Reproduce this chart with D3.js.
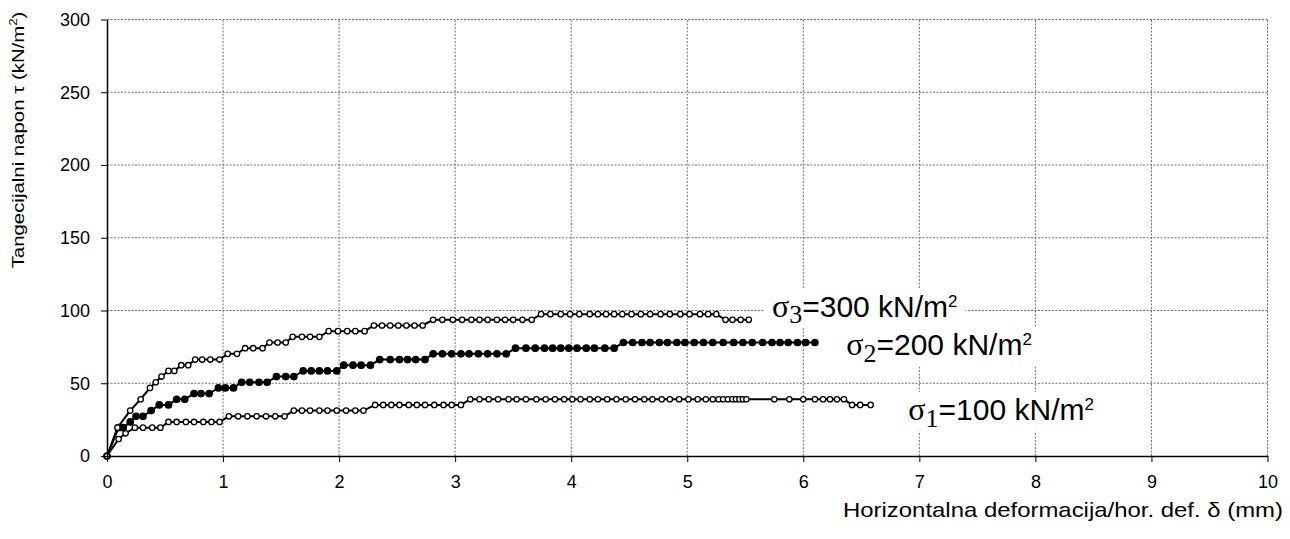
<!DOCTYPE html>
<html><head><meta charset="utf-8">
<script src="https://cdn.jsdelivr.net/npm/d3@7"></script>
<style>body{margin:0;background:#fff}svg{display:block}</style>
</head><body>
<script>
// ---- data ----
const xTicks = [0,1,2,3,4,5,6,7,8,9,10];
const yTicks = [0,50,100,150,200,250,300];

// sigma1 = 100 kN/m2 (open circles)
const sigma1X = [0,0.10,0.16,0.24,0.31,0.39,0.46,0.53,0.60,0.68,0.75,0.83,0.90,0.97,1.05,1.13,1.21,1.29,1.37,1.45,1.53,1.61,1.68,1.75,1.83,1.90,1.98,2.06,2.14,2.21,2.31,2.38,2.45,2.52,2.60,2.67,2.74,2.82,2.90,2.97,3.05,3.13,3.21,3.29,3.37,3.46,3.53,3.61,3.70,3.78,3.86,3.94,4.01,4.08,4.16,4.23,4.31,4.39,4.47,4.55,4.63,4.70,4.78,4.85,4.93,5.01,5.09,5.16,5.22,5.27,5.31,5.35,5.39,5.42,5.45,5.48,5.51,5.75,5.88,6.00,6.10,6.17,6.23,6.29,6.35,6.42,6.49,6.58];
const sigma1Y = [0,11.7,15.6,19.5,19.5,19.5,19.5,23.4,23.4,23.4,23.4,23.4,23.4,23.4,27.3,27.3,27.3,27.3,27.3,27.3,27.3,31.2,31.2,31.2,31.2,31.2,31.2,31.2,31.2,31.2,35.1,35.1,35.1,35.1,35.1,35.1,35.1,35.1,35.1,35.1,35.1,39.0,39.0,39.0,39.0,39.0,39.0,39.0,39.0,39.0,39.0,39.0,39.0,39.0,39.0,39.0,39.0,39.0,39.0,39.0,39.0,39.0,39.0,39.0,39.0,39.0,39.0,39.0,39.0,39.0,39.0,39.0,39.0,39.0,39.0,39.0,39.0,39.0,39.0,39.0,39.0,39.0,39.0,39.0,39.0,35.1,35.1,35.1];

// sigma2 = 200 kN/m2 (filled circles)
const sigma2X = [0,0.10,0.14,0.20,0.25,0.31,0.38,0.45,0.53,0.60,0.67,0.75,0.81,0.88,0.96,1.02,1.09,1.16,1.23,1.31,1.38,1.46,1.54,1.61,1.69,1.76,1.83,1.90,1.98,2.04,2.12,2.19,2.27,2.35,2.44,2.52,2.59,2.66,2.74,2.81,2.89,2.97,3.05,3.12,3.20,3.28,3.36,3.44,3.52,3.61,3.69,3.77,3.84,3.91,3.98,4.05,4.13,4.20,4.29,4.37,4.45,4.53,4.61,4.68,4.76,4.83,4.91,4.98,5.06,5.14,5.22,5.31,5.40,5.48,5.56,5.65,5.73,5.80,5.87,5.95,6.02,6.10];
const sigma2Y = [0,19.5,19.5,23.4,27.3,27.3,31.2,35.1,35.1,39.0,39.0,42.9,42.9,42.9,46.8,46.8,46.8,50.7,50.7,50.7,50.7,54.6,54.6,54.6,58.5,58.5,58.5,58.5,58.5,62.4,62.4,62.4,62.4,66.3,66.3,66.3,66.3,66.3,66.3,70.2,70.2,70.2,70.2,70.2,70.2,70.2,70.2,70.2,74.1,74.1,74.1,74.1,74.1,74.1,74.1,74.1,74.1,74.1,74.1,74.1,78.0,78.0,78.0,78.0,78.0,78.0,78.0,78.0,78.0,78.0,78.0,78.0,78.0,78.0,78.0,78.0,78.0,78.0,78.0,78.0,78.0,78.0];

// sigma3 = 300 kN/m2 (open circles)
const sigma3X = [0,0.09,0.20,0.29,0.37,0.42,0.47,0.53,0.58,0.64,0.70,0.76,0.82,0.89,0.97,1.04,1.12,1.19,1.26,1.34,1.40,1.47,1.54,1.60,1.68,1.75,1.83,1.91,1.99,2.07,2.14,2.22,2.30,2.37,2.44,2.51,2.58,2.65,2.72,2.81,2.89,2.98,3.06,3.14,3.21,3.28,3.36,3.43,3.50,3.58,3.66,3.74,3.82,3.91,3.99,4.07,4.16,4.23,4.30,4.37,4.44,4.52,4.60,4.68,4.77,4.85,4.94,5.02,5.11,5.18,5.25,5.33,5.39,5.46,5.53];
const sigma3Y = [0,19.5,31.2,39.0,46.8,50.7,54.6,58.5,58.5,62.4,62.4,66.3,66.3,66.3,66.3,70.2,70.2,74.1,74.1,74.1,78.0,78.0,78.0,81.9,81.9,81.9,81.9,85.8,85.8,85.8,85.8,85.8,89.7,89.7,89.7,89.7,89.7,89.7,89.7,93.6,93.6,93.6,93.6,93.6,93.6,93.6,93.6,93.6,93.6,93.6,93.6,97.5,97.5,97.5,97.5,97.5,97.5,97.5,97.5,97.5,97.5,97.5,97.5,97.5,97.5,97.5,97.5,97.5,97.5,97.5,97.5,93.6,93.6,93.6,93.6];

const seriesSub = ["1","2","3"];
const seriesLabel = ["=100 kN/m","=200 kN/m","=300 kN/m"];
const xTitle = "Horizontalna deformacija/hor. def. δ (mm)";
const yTitle = "Tangecijalni napon τ (kN/m";

// ---- drawing ----
const W = 1290, H = 539;
const svg = d3.select("body").append("svg").attr("width", W).attr("height", H)
  .style("font-family", "Arial, 'Liberation Sans', sans-serif");

const x = d3.scaleLinear().domain([0, 10]).range([107, 1267.5]);
const y = d3.scaleLinear().domain([0, 300]).range([456, 19.5]);

// grid
const grid = svg.append("g").attr("stroke", "#707070").attr("stroke-width", 1).attr("stroke-dasharray", "2,1.5");
grid.selectAll(".gx").data(xTicks.filter(d => d > 0)).join("line")
  .attr("x1", d => x(d)).attr("x2", d => x(d)).attr("y1", y(0)).attr("y2", y(300));
grid.selectAll(".gy").data(yTicks.filter(d => d > 0)).join("line")
  .attr("x1", x(0)).attr("x2", x(10)).attr("y1", d => y(d)).attr("y2", d => y(d));

// series
const series = [
  {xs: sigma1X, ys: sigma1Y, filled: false},
  {xs: sigma2X, ys: sigma2Y, filled: true},
  {xs: sigma3X, ys: sigma3Y, filled: false}
];
const line = d3.line().x(d => x(d[0])).y(d => y(d[1]));
series.forEach(s => {
  const pts = s.xs.map((v, i) => [v, s.ys[i]]);
  svg.append("path").datum(pts).attr("d", line)
    .attr("fill", "none").attr("stroke", "#000").attr("stroke-width", 2);
  svg.append("g").selectAll("circle").data(pts).join("circle")
    .attr("cx", d => x(d[0])).attr("cy", d => y(d[1]))
    .attr("r", s.filled ? 3.2 : 2.7)
    .attr("fill", s.filled ? "#000" : "#fff")
    .attr("stroke", "#000").attr("stroke-width", 1.3);
});

// axes
const xAxis = svg.append("g").attr("transform", `translate(0,${y(0)})`)
  .call(d3.axisBottom(x).tickValues(xTicks).tickSize(6).tickSizeOuter(0).tickPadding(13).tickFormat(d3.format("d")));
const yAxis = svg.append("g").attr("transform", `translate(${x(0)},0)`)
  .call(d3.axisLeft(y).tickValues(yTicks).tickSize(6).tickSizeOuter(0).tickPadding(11).tickFormat(d3.format("d")));
[xAxis, yAxis].forEach(a => {
  a.select(".domain").attr("stroke", "#000").attr("stroke-width", 1.5);
  a.selectAll(".tick line").attr("stroke", "#000").attr("stroke-width", 1);
  a.selectAll("text").attr("fill", "#000").attr("font-size", 18)
    .attr("font-family", "Arial, 'Liberation Sans', sans-serif");
});
xAxis.selectAll("text").attr("dy", "0.71em");

// axis titles
svg.append("text").attr("x", 1283).attr("y", 517).attr("text-anchor", "end")
  .attr("font-size", 21).attr("fill", "#000")
  .attr("textLength", 440).attr("lengthAdjust", "spacingAndGlyphs")
  .text(xTitle);

const yt = svg.append("text")
  .attr("transform", `translate(24,140) rotate(-90) scale(1.2,1)`)
  .attr("text-anchor", "middle").attr("font-size", 17).attr("fill", "#000");
yt.append("tspan").text(yTitle);
yt.append("tspan").attr("font-size", 11).attr("dy", -7).text("2");
yt.append("tspan").attr("dy", 7).text(")");

// series annotations
const labelPos = [[6.905, 24.7], [6.37, 69.4], [5.73, 95.8]];
const bgLayer = svg.append("g");
const txtLayer = svg.append("g");
labelPos.forEach((p, i) => {
  const t = txtLayer.append("text").attr("x", x(p[0])).attr("y", y(p[1])).attr("fill", "#000");
  t.append("tspan").attr("font-family", "'Liberation Serif','Times New Roman',serif").attr("font-size", 32).text("σ");
  t.append("tspan").attr("font-family", "'Liberation Serif','Times New Roman',serif").attr("font-size", 26).attr("dy", 6.5).text(seriesSub[i]);
  t.append("tspan").attr("font-size", 30).attr("dy", -6.5).text(seriesLabel[i]);
  t.append("tspan").attr("font-size", 17).attr("dy", -10).text("2");
  const b = t.node().getBBox();
  bgLayer.append("rect").attr("x", b.x - 8).attr("y", b.y + 1).attr("width", b.width + 16).attr("height", b.height - 2).attr("fill", "#fff");
});
</script>
</body></html>
